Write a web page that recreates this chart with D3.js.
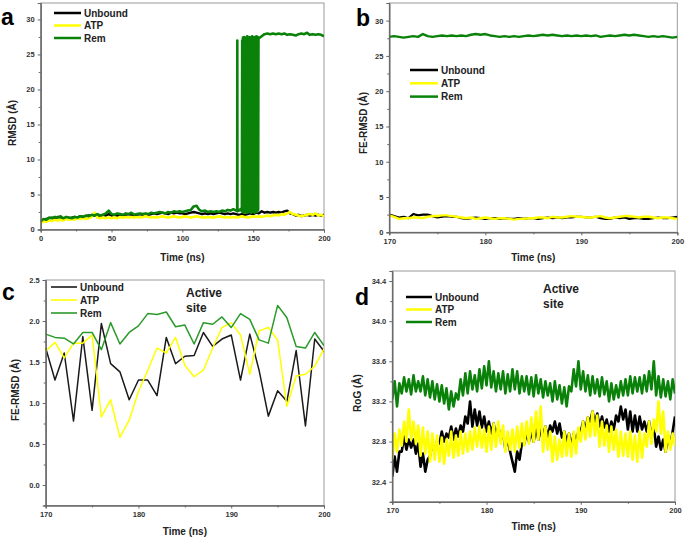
<!DOCTYPE html>
<html><head><meta charset="utf-8">
<script src="https://cdn.jsdelivr.net/npm/d3@7"></script>
<style>
body{margin:0;background:#fff}
svg{display:block}
text{font-family:"Liberation Sans",Arial,sans-serif;font-weight:bold}
</style>
</head><body>
<svg id="chart" width="685" height="539"></svg>
<script>
// ---------- DATA ----------
const seriesNames = ["Unbound", "ATP", "Rem"];

// Panel a: RMSD, 0–200 ns, sampled every 2 ns
const unboundA = [1.0,1.4,1.5,1.6,1.7,1.6,1.8,1.7,1.6,1.7,
  1.6,1.7,1.8,1.7,1.9,1.8,1.9,2.0,1.9,2.0,
  1.9,2.0,2.1,2.0,2.2,2.0,2.1,2.0,2.1,2.0,
  2.1,2.2,2.1,2.0,2.1,2.2,2.1,2.2,2.1,2.2,
  2.3,2.2,2.3,2.4,2.3,2.2,2.4,2.3,2.4,2.3,
  2.3,2.2,2.3,2.4,2.5,2.4,2.3,2.2,2.3,2.2,
  2.3,2.2,2.3,2.4,2.3,2.2,2.3,2.2,2.3,2.2,
  2.1,2.2,2.1,2.2,2.3,2.2,2.4,2.3,2.6,2.4,
  2.5,2.4,2.5,2.4,2.5,2.4,2.6,2.7,2.3,2.2,
  2.0,2.1,1.9,2.0,2.1,2.0,2.1,2.0,2.1,2.0,
  2.1];
const atpA = [0.9,1.2,1.1,1.3,1.2,1.4,1.3,1.4,1.3,1.5,
  1.4,1.5,1.4,1.6,1.5,1.7,1.5,1.6,1.8,2.4,
  1.7,1.6,1.7,1.6,1.7,1.6,1.7,1.6,1.8,1.7,
  1.8,1.7,1.8,1.7,1.8,1.7,1.8,1.9,1.8,1.7,
  1.8,1.7,1.8,1.9,1.8,1.7,1.8,1.9,1.8,1.7,
  1.8,1.9,1.8,1.7,1.8,1.9,1.8,1.7,1.8,1.7,
  1.8,1.7,1.8,1.9,1.8,1.7,1.8,1.7,1.8,1.7,
  1.8,1.9,1.8,1.7,1.8,1.9,1.8,1.9,1.8,1.9,
  2.0,1.9,2.0,2.1,2.0,2.2,2.1,2.3,2.5,2.2,
  2.1,2.0,1.9,2.0,2.1,2.2,2.1,2.3,2.0,2.1,
  1.9];
// Rem: 0–136 ns every 2 ns
const remAEarly = [1.2,1.5,1.4,1.7,1.6,1.8,1.7,1.9,1.6,1.8,
  1.7,1.6,1.8,1.7,1.9,1.8,2.0,1.9,2.1,2.0,
  2.2,2.0,2.1,2.3,2.7,2.2,2.1,2.3,2.2,2.1,
  2.3,2.2,2.4,2.1,2.2,2.3,2.2,2.3,2.2,2.4,
  2.3,2.4,2.5,2.4,2.3,2.5,2.4,2.6,2.5,2.6,
  2.5,2.6,2.7,2.8,3.3,3.4,2.8,2.6,2.7,2.5,
  2.6,2.5,2.6,2.5,2.7,2.6,2.8,2.7,2.9];
// Rem: transition 137–142 ns [time, value]
const remAJump = [[137,2.8],[138,2.7],[138.7,2.6],[138.8,27.0],[138.9,2.6],[139.5,2.8],[140,2.7],[141,2.9],[142,2.6]];
// Rem: flickering block 142.25–153.75 ns every 0.25 ns
const remABlock = [27.0,2.5,27.4,2.7,27.2,2.4,27.5,2.6,27.3,2.8,27.1,2.5,27.4,2.6,27.6,2.4,
  27.2,2.7,27.3,2.5,27.5,2.6,27.1,2.8,27.4,2.4,27.2,2.6,27.6,2.5,27.3,2.7,27.4,2.6,
  27.5,2.4,27.2,2.5,27.3,2.7,27.6,2.6,27.4,2.5,27.5,2.8,27.3];
// Rem: 154–200 ns every 2 ns
const remALate = [27.3,27.6,27.9,28.0,27.9,28.0,27.9,28.0,27.9,28.0,27.8,27.9,
  27.8,27.7,27.9,28.0,27.9,28.1,27.8,27.9,27.8,27.9,27.8,27.6];

// Panel b: FE-RMSD, 170–200 ns every 0.5 ns
const unboundB = [2.5,2.3,2.1,2.2,2.0,2.6,2.4,2.5,2.5,2.3,
  2.1,2.2,2.3,2.2,2.2,2.0,1.9,2.0,2.1,2.0,
  1.9,2.0,2.0,1.9,2.0,1.9,1.9,2.0,1.9,2.0,
  2.0,1.9,2.0,2.1,2.0,2.1,2.0,2.1,2.1,2.2,
  2.2,2.1,2.1,2.2,2.0,1.9,1.9,2.1,2.0,2.1,
  1.9,2.0,2.0,1.9,1.9,2.0,2.1,2.0,2.0,2.1,
  2.2];
const atpB = [2.4,2.2,1.9,2.0,2.0,2.1,2.1,2.0,2.2,2.3,
  2.3,2.4,2.4,2.3,2.2,2.1,2.0,2.1,1.9,2.0,
  2.1,2.0,1.9,2.0,2.0,1.9,1.8,1.9,1.9,2.0,
  2.0,2.1,2.1,2.0,2.2,2.1,2.1,2.2,2.3,2.2,
  2.2,2.1,2.1,2.2,2.3,2.1,2.0,2.1,2.2,2.3,
  2.3,2.2,2.1,2.2,2.2,2.1,2.0,2.1,2.1,2.0,
  1.9];
const remB = [27.7,27.8,27.7,27.6,27.7,27.8,27.7,28.1,27.8,27.7,
  27.8,27.9,27.8,27.9,27.8,27.9,27.8,28.0,28.1,28.0,
  28.1,27.9,27.8,27.7,27.8,27.7,27.8,27.7,27.8,27.9,
  27.8,27.9,28.0,27.9,28.0,27.9,27.8,27.9,27.8,27.9,
  27.8,27.9,27.8,27.9,27.7,27.8,27.9,27.8,27.9,28.0,
  27.9,28.0,27.9,27.8,27.7,27.8,27.7,27.8,27.7,27.6,
  27.7];

// Panel c: active-site FE-RMSD, 170–200 ns every 1 ns
const unboundC = [1.67,1.28,1.61,0.78,1.81,0.91,1.97,1.48,1.38,1.04,
  1.28,1.28,1.09,1.80,1.48,1.57,1.58,1.86,1.69,1.78,
  1.83,1.28,1.84,1.40,0.84,1.15,1.02,1.64,0.72,1.78,1.63];
const atpC = [1.63,1.74,1.55,1.73,1.73,1.83,0.83,1.04,0.58,0.79,
  1.14,1.40,1.67,1.61,1.80,1.46,1.32,1.40,1.67,1.92,
  1.98,1.83,1.35,1.88,1.92,1.77,0.96,1.33,1.35,1.45,1.66];
const remC = [1.84,1.80,1.79,1.72,1.86,1.86,1.65,1.98,1.72,1.86,
  1.94,2.09,2.08,2.11,1.93,1.95,1.72,1.98,1.96,2.05,
  1.92,2.09,2.02,1.77,1.73,2.19,2.04,1.69,1.67,1.86,1.70];

// Panel d: active-site RoG, 170–200 ns every 0.25 ns
const unboundD = [32.45,32.65,32.50,32.70, 32.70,32.85,32.72,32.82, 32.74,32.82,32.68,32.78,
  32.55,32.68,32.50,32.62, 32.66,32.78,32.70,32.80, 32.78,32.90,32.80,32.88,
  32.84,32.95,32.82,32.93, 32.85,32.96,32.90,33.05, 32.98,33.20,32.95,33.12,
  32.96,33.10,32.94,33.05, 32.90,33.00,32.88,32.98, 32.85,32.95,32.82,32.90,
  32.72,32.84,32.70,32.60, 32.50,32.70,32.62,32.78, 32.78,32.88,32.80,32.90,
  32.80,32.94,32.82,32.92, 32.86,32.95,32.84,32.96, 32.90,33.00,32.88,32.98,
  32.84,32.90,32.80,32.88, 32.75,32.88,32.78,32.90, 32.90,33.00,32.92,33.04,
  33.00,33.10,32.98,33.08, 32.95,33.05,32.94,33.02, 32.90,33.00,32.92,33.06,
  33.00,33.15,33.02,33.12, 32.92,33.10,32.90,33.06, 32.90,33.05,32.92,33.00,
  32.90,33.00,32.86,32.95, 32.75,32.85,32.72,32.82, 32.70,32.85,32.75,32.90,
  33.05];
const atpD = [32.62,32.88,32.70,32.92, 32.76,33.00,32.80,33.12, 32.82,33.00,32.78,32.96,
  32.66,32.94,32.68,32.90, 32.60,32.88,32.62,32.86, 32.60,32.84,32.58,32.82,
  32.66,32.90,32.64,32.86, 32.66,32.90,32.68,32.88, 32.70,32.90,32.72,32.94,
  32.75,32.95,32.74,32.92, 32.70,32.95,32.72,32.98, 32.75,33.00,32.78,32.96,
  32.70,32.90,32.72,32.92, 32.70,32.95,32.74,32.98, 32.76,33.00,32.78,33.04,
  32.80,33.10,32.82,33.15, 32.70,32.95,32.72,32.90, 32.60,32.85,32.62,32.82,
  32.65,32.90,32.66,32.88, 32.65,32.90,32.68,32.94, 32.80,33.00,32.82,33.04,
  32.85,33.10,32.86,33.06, 32.75,33.00,32.76,32.96, 32.70,32.95,32.72,32.92,
  32.65,32.90,32.66,32.88, 32.65,32.90,32.62,32.86, 32.60,32.90,32.64,32.88,
  32.75,33.00,32.78,33.02, 32.90,33.20,32.88,33.10, 32.70,32.90,32.72,32.88,
  32.75];
const remD = [33.22,33.40,33.15,33.38, 33.28,33.44,33.30,33.42, 33.27,33.46,33.30,33.40,
  33.30,33.45,33.26,33.42, 33.24,33.40,33.22,33.37, 33.20,33.36,33.18,33.33,
  33.12,33.30,33.15,33.28, 33.22,33.42,33.26,33.48, 33.28,33.50,33.32,33.46,
  33.30,33.52,33.33,33.55, 33.36,33.60,33.34,33.50, 33.30,33.48,33.32,33.50,
  33.28,33.47,33.30,33.52, 33.32,33.50,33.28,33.45, 33.30,33.45,33.27,33.44,
  33.25,33.46,33.28,33.42, 33.24,33.40,33.26,33.38, 33.20,33.40,33.22,33.36,
  33.18,33.34,33.15,33.35, 33.30,33.52,33.35,33.60, 33.32,33.50,33.30,33.46,
  33.26,33.45,33.28,33.42, 33.25,33.44,33.27,33.40, 33.20,33.38,33.22,33.36,
  33.24,33.40,33.26,33.42, 33.26,33.45,33.28,33.44, 33.30,33.44,33.28,33.46,
  33.30,33.50,33.32,33.60, 33.26,33.45,33.24,33.42, 33.25,33.40,33.22,33.42,
  33.28];

// Tick values
const ticksA_x = [0,50,100,150,200], minorA_x = [25,75,125,175];
const ticksA_y = [0,5,10,15,20,25,30], minorA_y = [2.5,7.5,12.5,17.5,22.5,27.5];
const ticks170_x = [170,180,190,200], minor170_x = [175,185,195];
const ticksC_y = [0.0,0.5,1.0,1.5,2.0,2.5], minorC_y = [-0.25,0.25,0.75,1.25,1.75,2.25];
const ticksD_y = [32.4,32.8,33.2,33.6,34.0,34.4], minorD_y = [32.2,32.6,33.0,33.4,33.8,34.2];

// ---------- DRAWING ----------
const toPairs = (vals, t0, t1) => vals.map((v, i) => [t0 + i * (t1 - t0) / (vals.length - 1), v]);
const svg = d3.select("#chart");
let clipId = 0;

function panel(o) {
  const g = svg.append("g");
  const x = d3.scaleLinear().domain(o.xd).range([o.x0, o.x1]);
  const y = d3.scaleLinear().domain(o.yd).range([o.y1, o.y0]);
  const id = "clip" + (clipId++);
  g.append("clipPath").attr("id", id).append("rect")
    .attr("x", o.x0).attr("y", o.y0).attr("width", o.x1 - o.x0).attr("height", o.y1 - o.y0);
  g.append("rect").attr("x", o.x0).attr("y", o.y0).attr("width", o.x1 - o.x0).attr("height", o.y1 - o.y0)
    .attr("fill", "none").attr("stroke", "#9a9a9a").attr("stroke-width", 1);
  const line = d3.line().x(d => x(d[0])).y(d => y(d[1]));
  const lg = g.append("g").attr("clip-path", `url(#${id})`);
  o.series.forEach(s => {
    lg.append("path").datum(s.data).attr("d", line).attr("fill", "none")
      .attr("stroke", s.color).attr("stroke-width", s.width).attr("stroke-linejoin", "round");
  });
  const styleAxis = (ag) => {
    ag.select(".domain").attr("stroke", "#666");
    ag.selectAll(".tick line").attr("stroke", "#666");
    ag.selectAll(".tick text").attr("fill", "#333").style("font-size", "7.5px")
      .style("font-family", '"Liberation Sans",Arial,sans-serif').style("font-weight", "bold");
  };
  const xa = g.append("g").attr("transform", `translate(0,${o.y1})`)
    .call(d3.axisBottom(x).tickValues(o.xt).tickSize(3).tickPadding(3).tickFormat(o.xf));
  styleAxis(xa);
  const xm = g.append("g").attr("transform", `translate(0,${o.y1})`)
    .call(d3.axisBottom(x).tickValues(o.xm).tickSize(2).tickFormat(""));
  styleAxis(xm);
  const ya = g.append("g").attr("transform", `translate(${o.x0},0)`)
    .call(d3.axisLeft(y).tickValues(o.yt).tickSize(3).tickPadding(3).tickFormat(o.yf));
  styleAxis(ya);
  const ym = g.append("g").attr("transform", `translate(${o.x0},0)`)
    .call(d3.axisLeft(y).tickValues(o.ym).tickSize(2).tickFormat(""));
  styleAxis(ym);
  g.append("text").attr("x", (o.x0 + o.x1) / 2).attr("y", o.xTitleY).attr("text-anchor", "middle")
    .attr("font-size", "10px").attr("fill", "#222").text("Time (ns)");
  g.append("text").attr("transform", `translate(${o.yTitleX},${o.yTitleC}) rotate(-90)`)
    .attr("text-anchor", "middle").attr("font-size", "10px").attr("fill", "#222").text(o.yTitle);
  g.append("text").attr("x", o.letterX).attr("y", o.letterY).attr("font-size", "23px")
    .attr("fill", "#000").text(o.letter);
  o.series.forEach((s, i) => {
    const ly = o.legY + i * o.legDy;
    g.append("line").attr("x1", o.legX).attr("x2", o.legX + o.legLen).attr("y1", ly).attr("y2", ly)
      .attr("stroke", s.color).attr("stroke-width", o.legW);
    g.append("text").attr("x", o.legX + o.legLen + 3).attr("y", ly + 3.6)
      .attr("font-size", "10px").attr("fill", "#222").text(seriesNames[i]);
  });
  if (o.note) {
    g.append("text").attr("x", o.note.x).attr("y", o.note.y).attr("font-size", "12px").attr("fill", "#222").text("Active");
    g.append("text").attr("x", o.note.x).attr("y", o.note.y + 14.5).attr("font-size", "12px").attr("fill", "#222").text("site");
  }
}

const BLACK = "#000000", YELLOW = "#ffff00", GREEN = "#0a820a";
const intF = d3.format("d"), oneF = d3.format(".1f");

// panel a
const remA = toPairs(remAEarly, 0, 136).concat(remAJump, toPairs(remABlock, 142.25, 153.75), toPairs(remALate, 154, 200));
panel({
  x0: 40.7, x1: 324, y0: 3, y1: 229.5, xd: [0, 200], yd: [0, 32.35],
  xt: ticksA_x, xm: minorA_x, yt: ticksA_y, ym: minorA_y, xf: intF, yf: intF,
  xTitleY: 261, yTitleX: 16, yTitleC: 123, yTitle: "RMSD (Å)",
  letter: "a", letterX: 1, letterY: 25,
  legX: 54, legLen: 27, legY: 13, legDy: 12.5, legW: 2.5,
  series: [
    {data: toPairs(unboundA, 0, 200), color: BLACK, width: 2.4},
    {data: toPairs(atpA, 0, 200), color: YELLOW, width: 2.6},
    {data: remA, color: GREEN, width: 2.6}
  ]
});

// panel b
panel({
  x0: 389.3, x1: 677.3, y0: 3, y1: 232.3, xd: [170, 200], yd: [0, 32.5],
  xt: ticks170_x, xm: minor170_x, yt: ticksA_y, ym: minorA_y, xf: intF, yf: intF,
  xTitleY: 261, yTitleX: 367, yTitleC: 123, yTitle: "FE-RMSD (Å)",
  letter: "b", letterX: 356, letterY: 26,
  legX: 410, legLen: 28, legY: 70, legDy: 13.3, legW: 2.5,
  series: [
    {data: toPairs(unboundB, 170, 200), color: BLACK, width: 2.2},
    {data: toPairs(atpB, 170, 200), color: YELLOW, width: 2.4},
    {data: toPairs(remB, 170, 200), color: GREEN, width: 2.4}
  ]
});

// panel c
panel({
  x0: 45.7, x1: 324, y0: 280, y1: 505.5, xd: [170, 200], yd: [-0.25, 2.5],
  xt: ticks170_x, xm: minor170_x, yt: ticksC_y, ym: minorC_y, xf: intF, yf: oneF,
  xTitleY: 535, yTitleX: 19, yTitleC: 390, yTitle: "FE-RMSD (Å)",
  letter: "c", letterX: 2, letterY: 300,
  legX: 51, legLen: 26, legY: 287, legDy: 13, legW: 1.6,
  note: {x: 186, y: 297},
  series: [
    {data: toPairs(unboundC, 170, 200), color: "#1a1a1a", width: 1.5},
    {data: toPairs(atpC, 170, 200), color: YELLOW, width: 1.5},
    {data: toPairs(remC, 170, 200), color: "#2a9a2a", width: 1.5}
  ]
});

// panel d
panel({
  x0: 392.3, x1: 675, y0: 271, y1: 501.8, xd: [170, 200], yd: [32.2, 34.5],
  xt: ticks170_x, xm: minor170_x, yt: ticksD_y, ym: minorD_y, xf: intF, yf: oneF,
  xTitleY: 529.5, yTitleX: 361, yTitleC: 393, yTitle: "RoG (Å)",
  letter: "d", letterX: 355, letterY: 305,
  legX: 406, legLen: 26, legY: 297, legDy: 12.5, legW: 2.5,
  note: {x: 543, y: 293},
  series: [
    {data: toPairs(unboundD, 170, 200), color: BLACK, width: 2.6},
    {data: toPairs(atpD, 170, 200), color: YELLOW, width: 2.6},
    {data: toPairs(remD, 170, 200), color: GREEN, width: 2.6}
  ]
});
</script>
</body></html>
